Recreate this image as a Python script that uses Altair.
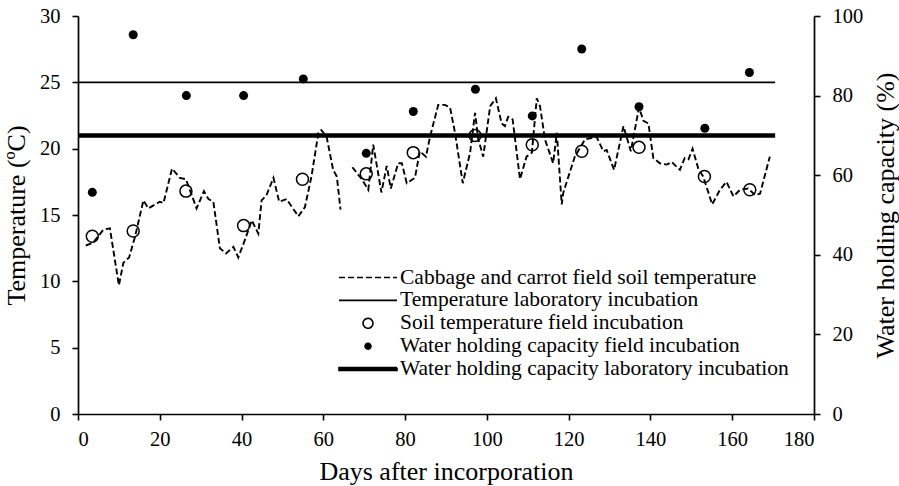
import altair as alt
import pandas as pd

# ---- data ----
# cabbage and carrot field soil temperature (dashed line), two segments (gap ~day 65-67)
seg1_day = [1.9, 3.7, 6.2, 7.8, 10.0, 11.1, 12.5, 13.9, 16.0, 17.2, 20.0, 20.9, 23.0, 24.9,
            26.4, 29.0, 30.8, 31.9, 33.1, 34.7, 36.2, 38.0, 39.2, 40.8, 42.5, 44.1, 44.9,
            46.1, 47.8, 49.2, 51.0, 53.9, 55.5, 57.1, 58.8, 59.5, 60.8, 62.4, 63.3, 64.2]
seg1_temp = [12.7, 12.9, 13.9, 14.0, 9.7, 11.4, 11.8, 13.3, 16.1, 15.5, 16.0, 15.9, 18.5, 17.8,
             17.7, 15.5, 16.8, 16.2, 16.0, 12.5, 12.1, 12.6, 11.8, 13.1, 14.6, 13.6, 16.1,
             16.5, 17.8, 16.0, 16.2, 14.9, 15.6, 17.9, 21.2, 21.4, 20.9, 18.4, 17.9, 15.4]
seg2_day = [67.1, 69.4, 71.0, 72.2, 74.2, 75.5, 76.5, 78.3, 79.2, 80.4, 82.4, 83.6, 85.1, 86.1,
            88.1, 89.7, 91.0, 92.2, 94.1, 95.9, 97.1, 97.9, 99.1, 100.8, 102.2, 103.6, 104.4,
            105.2, 106.3, 108.1, 109.7, 111.0, 112.2, 113.0, 114.2, 116.2, 117.1, 118.3, 118.7,
            121.5, 124.0, 126.8, 128.5, 129.3, 131.1, 133.4, 135.2, 137.2, 138.3, 139.5, 140.7,
            142.3, 144.0, 145.2, 147.2, 148.4, 149.3, 150.3, 151.7, 152.9, 155.1, 157.0, 158.6,
            160.3, 161.9, 163.9, 165.6, 166.8, 169.2]
seg2_temp = [18.6, 17.7, 16.9, 20.3, 16.7, 18.7, 17.0, 18.9, 18.9, 17.4, 17.8, 19.8, 19.4, 20.9,
             23.3, 23.3, 23.1, 21.2, 17.4, 19.7, 22.7, 20.7, 19.4, 23.2, 23.8, 21.9, 21.7,
             22.4, 22.2, 17.7, 19.4, 19.7, 23.8, 23.2, 20.7, 18.9, 21.2, 15.8, 16.7,
             19.4, 20.7, 20.9, 19.8, 19.9, 18.4, 21.7, 19.8, 23.1, 22.1, 21.9, 19.3,
             18.9, 18.8, 19.0, 18.4, 19.3, 19.2, 20.0, 18.5, 17.9, 15.8, 16.9, 17.5,
             16.4, 16.9, 17.0, 16.5, 16.6, 19.4]

# soil temperature field incubation (open circles, degC)
circle_day = [3.5, 13.5, 26.4, 40.5, 54.9, 70.5, 82.0, 97.1, 111.1, 123.2, 137.2, 153.2, 164.3]
circle_temp = [13.4, 13.8, 16.8, 14.2, 17.7, 18.1, 19.7, 21.0, 20.3, 19.8, 20.1, 17.9, 16.9]

# water holding capacity field incubation (filled dots, %)
dot_day = [3.5, 13.5, 26.5, 40.5, 55.1, 70.5, 82.0, 97.2, 111.1, 123.2, 137.2, 153.3, 164.2]
dot_whc = [55.7, 95.3, 80.0, 80.0, 84.2, 65.5, 76.0, 81.6, 74.9, 91.7, 77.2, 71.8, 85.8]

# laboratory incubation conditions
lab_period = [0, 170.5]
lab_temp = [25]
lab_whc = [70]

SERIES = [
    "Cabbage and carrot field soil temperature",
    "Temperature laboratory incubation",
    "Soil temperature field incubation",
    "\u00a0Water holding capacity field incubation",
    "Water holding capacity laboratory incubation",
]

x_ticks = list(range(0, 181, 20))
t_ticks = list(range(0, 31, 5))
w_ticks = list(range(0, 101, 20))

# ---- tables ----
df_line = pd.DataFrame({
    "day": seg1_day + seg2_day,
    "temp": seg1_temp + seg2_temp,
    "seg": ["a"] * len(seg1_day) + ["b"] * len(seg2_day),
})
df_circ = pd.DataFrame({"day": circle_day, "temp": circle_temp})
df_dot = pd.DataFrame({"day": dot_day, "whc": dot_whc})
df_lab_t = pd.DataFrame({"start": [lab_period[0]], "end": [lab_period[1]], "temp": lab_temp})
df_lab_w = pd.DataFrame({"start": [lab_period[0]], "end": [lab_period[1]], "whc": lab_whc})
df_legend = pd.DataFrame({"day": pd.Series([], dtype=float), "temp": pd.Series([], dtype=float),
                          "series": pd.Series([], dtype=str)})

FONT = "Liberation Serif"

x_scale = alt.Scale(domain=[0, 180], nice=False, zero=False)
t_scale = alt.Scale(domain=[0, 30], nice=False)
w_scale = alt.Scale(domain=[0, 100], nice=False)

x_axis = alt.Axis(values=x_ticks, title="Days after incorporation", format="d",
                  labelPadding=9, titlePadding=9)
t_axis = alt.Axis(values=t_ticks, title="Temperature (ºC)", format="d",
                  labelPadding=12, titlePadding=10)
w_axis = alt.Axis(values=w_ticks, title="Water holding capacity (%)", format="d",
                  orient="right", titleAngle=270, titleBaseline="top",
                  labelPadding=12, titlePadding=10)

X = alt.X("day:Q", scale=x_scale, axis=x_axis)
XS = alt.X("start:Q", scale=x_scale, axis=x_axis)
YT = alt.Y("temp:Q", scale=t_scale, axis=t_axis)

# legend symbol shapes (unit-square SVG paths, scaled by the legend symbol size)
circle_path = "M-0.17,0A0.17,0.17 0 1,1 0.17,0A0.17,0.17 0 1,1 -0.17,0Z"
dot_path = "M-0.1,0A0.1,0.1 0 1,1 0.1,0A0.1,0.1 0 1,1 -0.1,0Z"
bar_path = "M-1,-0.05H1V0.05H-1Z"
stroke_path = "M-1,0H1"

legend = alt.Legend(
    orient="none", legendX=260, legendY=251, title=None,
    labelFont=FONT, labelFontSize=21.5, labelColor="black", labelLimit=0,
    labelOffset=2, symbolSize=3364, symbolStrokeWidth=1.6, clipHeight=21,
    rowPadding=0.9, padding=0, symbolOpacity=1, symbolStrokeColor="black",
)

line = alt.Chart(df_line).mark_line(strokeDash=[6, 3], strokeWidth=1.9, color="black").encode(
    x=X, y=YT, detail="seg:N",
)
lab_t_rule = alt.Chart(df_lab_t).mark_rule(strokeWidth=1.6, color="black").encode(
    x=XS, x2="end:Q", y=YT,
)
circles = alt.Chart(df_circ).mark_point(shape="circle", filled=False, size=144, strokeWidth=1.5,
                                        color="black", opacity=1).encode(x=X, y=YT)
legend_layer = alt.Chart(df_legend).mark_point(color="black", filled=False).encode(
    x=X, y=YT,
    shape=alt.Shape("series:N", scale=alt.Scale(domain=SERIES, range=[
        stroke_path, stroke_path, circle_path, dot_path, bar_path]), legend=legend),
    fill=alt.Fill("series:N", scale=alt.Scale(domain=SERIES, range=[
        "transparent", "transparent", "transparent", "black", "black"]), legend=legend),
    stroke=alt.Stroke("series:N", scale=alt.Scale(domain=SERIES, range=["black"] * 5),
                      legend=legend),
    strokeDash=alt.StrokeDash("series:N", scale=alt.Scale(domain=SERIES, range=[
        [6, 3], [1, 0], [1, 0], [1, 0], [1, 0]]), legend=legend),
)
dots = alt.Chart(df_dot).mark_circle(size=81, color="black", opacity=1).encode(
    x=X, y=alt.Y("whc:Q", scale=w_scale, axis=w_axis),
)
lab_w_rule = alt.Chart(df_lab_w).mark_rule(strokeWidth=4.5, color="black").encode(
    x=XS, x2="end:Q", y=alt.Y("whc:Q", scale=w_scale, axis=w_axis),
)

temp_layer = alt.layer(line, lab_t_rule, circles, legend_layer)
whc_layer = alt.layer(dots, lab_w_rule)

chart = alt.layer(temp_layer, whc_layer).resolve_scale(y="independent").properties(
    width=736, height=398,
    padding={"left": 78, "top": 16, "right": 85, "bottom": 72},
    autosize=alt.AutoSizeParams(type="none"),
    background="white",
).configure_view(stroke=None).configure_axis(
    grid=False, labelFont=FONT, labelFontSize=20.5, labelColor="black",
    titleFont=FONT, titleFontSize=26, titleFontWeight="normal", titleColor="black",
    domainColor="black", domainWidth=1.7, tickColor="black", tickWidth=1.6, tickSize=6,
)

chart.save("out.html", embed_options={"renderer": "svg", "actions": False})
